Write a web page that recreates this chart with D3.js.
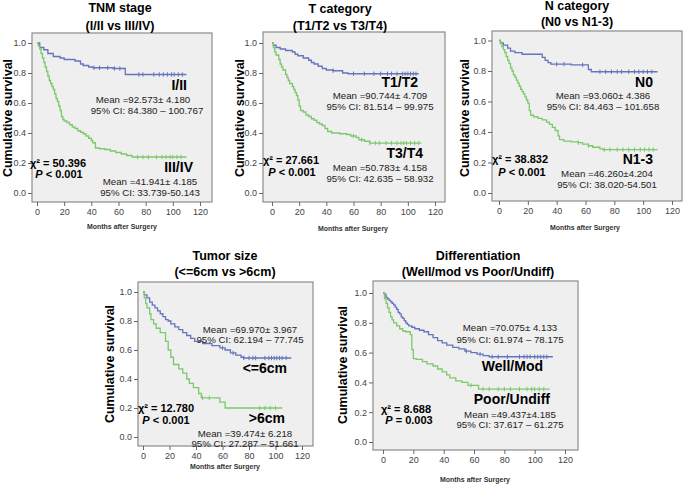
<!DOCTYPE html>
<html><head><meta charset="utf-8">
<script src="https://cdn.jsdelivr.net/npm/d3@7"></script>
<style>body{margin:0;background:#fff}svg{display:block}</style>
</head><body>
<svg id="chart" width="685" height="486"></svg>
<script>
// ---------- data ----------
const xTicks = [0, 20, 40, 60, 80, 100, 120];
const yTicks = [0.0, 0.2, 0.4, 0.6, 0.8, 1.0];
const xAxisTitle = "Months after Surgery";
const yAxisTitle = "Cumulative survival";

const panelTitles = [
  ["TNM stage", "(I/II vs III/IV)"],
  ["T category", "(T1/T2 vs T3/T4)"],
  ["N category", "(N0 vs N1-3)"],
  ["Tumor size", "(<=6cm vs >6cm)"],
  ["Differentiation", "(Well/mod vs Poor/Undiff)"]
];
const groupLabels = [["I/II", "III/IV"], ["T1/T2", "T3/T4"], ["N0", "N1-3"], ["<=6cm", ">6cm"], ["Well/Mod", "Poor/Undiff"]];
const meanLabels = [
  ["Mean =92.573\u00b1 4.180", "Mean =41.941\u00b1 4.185"],
  ["Mean =90.744\u00b1 4.709", "Mean =50.783\u00b1 4.158"],
  ["Mean =93.060\u00b1 4.386", "Mean =46.260\u00b14.204"],
  ["Mean =69.970\u00b1 3.967", "Mean =39.474\u00b1 6.218"],
  ["Mean =70.075\u00b1 4.133", "Mean =49.437\u00b14.185"]
];
const ciLabels = [
  ["95% CI: 84.380 \u2013 100.767", "95% CI: 33.739-50.143"],
  ["95% CI: 81.514 \u2013 99.975", "95% CI: 42.635 \u2013 58.932"],
  ["95% CI: 84.463 \u2013 101.658", "95% CI: 38.020-54.501"],
  ["95% CI: 62.194 \u2013 77.745", "95% CI: 27.287 \u2013 51.661"],
  ["95% CI: 61.974 \u2013 78.175", "95% CI: 37.617 \u2013 61.275"]
];
const chiLabels = ["\u03c7\u00b2 = 50.396", "\u03c7\u00b2 = 27.661", "\u03c7\u00b2 = 38.832", "\u03c7\u00b2 = 12.780", "\u03c7\u00b2 = 8.688"];
const pLabels = ["P < 0.001", "P < 0.001", "P < 0.001", "P < 0.001", "P = 0.003"];

// Kaplan-Meier steps: [month, cumulative survival]
const tnmGood = [[0,1],[2,0.97],[5,0.955],[8,0.93],[12,0.91],[17,0.90],[20,0.89],[28,0.88],[32,0.86],[34,0.85],[38,0.84],[41,0.835],[56,0.83],[65,0.79]];
const tnmPoor = [[0,1],[1,0.98],[2,0.96],[3,0.93],[4,0.90],[5,0.87],[6,0.84],[7,0.81],[8,0.78],[9,0.75],[10,0.73],[11,0.71],[12,0.69],[13,0.66],[14,0.63],[15,0.61],[16,0.58],[17,0.55],[18,0.51],[19,0.49],[20,0.48],[22,0.47],[24,0.455],[26,0.44],[28,0.43],[30,0.415],[32,0.405],[34,0.395],[36,0.38],[38,0.365],[40,0.35],[41,0.335],[43,0.30],[46,0.295],[50,0.29],[54,0.28],[58,0.27],[62,0.26],[66,0.25],[70,0.24]];
const tGood = [[0,1],[1,0.985],[3,0.97],[6,0.96],[10,0.95],[15,0.94],[17,0.925],[19,0.915],[23,0.90],[27,0.885],[29,0.87],[31,0.86],[34,0.845],[37,0.83],[40,0.82],[45,0.815],[52,0.80],[56,0.795]];
const tPoor = [[0,1],[1,0.97],[2,0.94],[3,0.92],[5,0.89],[6,0.86],[7,0.84],[8,0.82],[10,0.79],[11,0.77],[12,0.75],[13,0.73],[15,0.71],[16,0.69],[17,0.67],[18,0.65],[19,0.62],[20,0.58],[21,0.55],[23,0.54],[25,0.52],[27,0.51],[29,0.495],[31,0.485],[33,0.47],[35,0.46],[37,0.45],[39,0.43],[41,0.41],[44,0.40],[50,0.395],[55,0.39],[58,0.38],[62,0.37],[64,0.355],[68,0.345],[72,0.333]];
const nGood = [[0,1],[1,0.985],[3,0.97],[6,0.95],[8,0.93],[11,0.92],[16,0.91],[30,0.89],[32,0.87],[34,0.855],[36,0.845],[50,0.84],[62,0.81],[64,0.795]];
const nPoor = [[0,1],[1,0.98],[2,0.96],[3,0.94],[4,0.92],[5,0.895],[6,0.87],[7,0.85],[8,0.82],[9,0.80],[10,0.775],[11,0.76],[12,0.74],[13,0.72],[14,0.70],[15,0.68],[16,0.665],[17,0.65],[18,0.63],[19,0.61],[20,0.59],[21,0.54],[22,0.51],[24,0.50],[27,0.49],[30,0.48],[33,0.465],[35,0.45],[37,0.43],[39,0.41],[41,0.375],[42,0.35],[45,0.34],[50,0.335],[55,0.33],[58,0.32],[62,0.31],[65,0.30],[70,0.29],[72,0.285]];
const sizeGood = [[0,1],[1,0.98],[3,0.96],[5,0.93],[7,0.91],[9,0.89],[11,0.87],[13,0.85],[15,0.83],[17,0.81],[19,0.80],[21,0.78],[24,0.76],[27,0.74],[30,0.72],[33,0.70],[36,0.68],[39,0.66],[45,0.645],[52,0.63],[58,0.615],[62,0.60],[66,0.58],[70,0.565],[74,0.55],[76,0.545]];
const sizePoor = [[0,1],[1,0.96],[2,0.92],[3,0.89],[5,0.85],[6,0.81],[8,0.78],[10,0.75],[13,0.72],[17,0.66],[19,0.60],[21,0.55],[23,0.50],[27,0.47],[30,0.44],[33,0.40],[35,0.37],[38,0.34],[42,0.30],[44,0.27],[58,0.24],[62,0.20]];
const diffGood = [[0,1],[1,0.99],[2,0.97],[3,0.96],[4,0.95],[5,0.94],[6,0.93],[7,0.92],[8,0.905],[9,0.89],[10,0.87],[11,0.86],[12,0.84],[13,0.83],[14,0.815],[15,0.80],[16,0.79],[17,0.78],[19,0.77],[21,0.76],[24,0.75],[27,0.74],[30,0.72],[33,0.70],[36,0.68],[39,0.665],[42,0.65],[46,0.635],[50,0.625],[54,0.61],[58,0.60],[62,0.59],[66,0.58],[70,0.572]];
const diffPoor = [[0,1],[1,0.96],[2,0.93],[3,0.90],[4,0.87],[5,0.84],[6,0.82],[7,0.80],[9,0.78],[11,0.76],[13,0.745],[15,0.74],[18,0.72],[19,0.62],[20,0.56],[22,0.555],[26,0.54],[29,0.525],[33,0.51],[36,0.49],[39,0.47],[42,0.45],[44,0.43],[48,0.41],[52,0.40],[56,0.38],[63,0.355]];

// follow-up end (months) and censored times
const followEnd = [[110, 110], [108, 110], [110, 110], [112, 105], [112, 110]];
const censored = [
  [[42,46,52,57,61,75,78,86,90,93,96,99,101,104,107], [74,78,82,88,92,95,98,100,103,106]],
  [[45,60,68,75,80,85,88,92,96,98,100,102,104,106], [60,66,72,76,79,84,88,92,95,97,99,102,105,108]],
  [[40,45,58,70,74,78,82,85,90,94,97,100,103,106], [55,62,73,77,82,86,90,94,98,101,104,107]],
  [[60,68,76,80,83,85,92,95,97,99,101,103,105,108], [45,50,88,92,96,100]],
  [[55,64,72,76,82,90,93,95,97,100,102,104,106,108], [58,66,70,76,80,84,90,95,98,100,103,106]]
];
const curves = [[tnmGood, tnmPoor], [tGood, tPoor], [nGood, nPoor], [sizeGood, sizePoor], [diffGood, diffPoor]];

// ---------- layout ----------
const layout = [
  {frame:[32,33,212,202], xr:[37,200], yr:[193,43], title:[120,12,30], ylab:[8,118], months:[122,229],
   g1:[187,90], m1:[143,102.5], c1:[147,113.5], g2:[193,172], m2:[150,184.5], c2:[150,195.5], chi:[58,167], p:[59,178]},
  {frame:[263,32,445,202], xr:[272,435], yr:[193,43], title:[340,13,30], ylab:[240,118], months:[353,231],
   g1:[418,87], m1:[380,98.5], c1:[380,109.5], g2:[423,158], m2:[380,170.5], c2:[380,181.5], chi:[291,164], p:[292,176]},
  {frame:[492,31,682,201], xr:[499,672], yr:[193,40.5], title:[577,10,26], ylab:[465,118], months:[585,230],
   g1:[653,87], m1:[603,98.5], c1:[603,109.5], g2:[653,164], m2:[607,176.5], c2:[607,187.5], chi:[520,163], p:[522,176]},
  {frame:[138,282,313,446], xr:[143,302], yr:[437,292], title:[225,260,276], ylab:[110,364], months:[225,469],
   g1:[287,373], m1:[250,332.5], c1:[250,342.5], g2:[285,423], m2:[245,436.5], c2:[245,446.5], chi:[166,412], p:[166,424]},
  {frame:[373,281,578,450], xr:[383,565], yr:[442,293], title:[478,260,276], ylab:[343,365], months:[475,482],
   g1:[543,371], m1:[510,330.5], c1:[510,342.5], g2:[550,404], m2:[510,417.5], c2:[510,427.5], chi:[406,413], p:[409,424]}
];
const colors = ["#6673bd", "#7cc96c"];
const FONT = "Liberation Sans, Arial, Helvetica, sans-serif";

const svg = d3.select("#chart").style("font-family", FONT);

layout.forEach((L, i) => {
  const [fl, ft, fr, fb] = L.frame;
  const x = d3.scaleLinear().domain([0, 120]).range(L.xr);
  const y = d3.scaleLinear().domain([0, 1]).range(L.yr);
  const g = svg.append("g");

  g.append("rect").attr("x", fl).attr("y", ft).attr("width", fr - fl).attr("height", fb - ft)
    .attr("fill", "#efefef").attr("stroke", "#8c8c8c").attr("stroke-width", 1.2);

  // axes
  const yAxis = d3.axisLeft(y).tickValues(yTicks).tickFormat(d3.format(".1f")).tickSize(4).tickPadding(2);
  const ya = g.append("g").attr("transform", `translate(${fl},0)`).call(yAxis);
  const xAxis = d3.axisBottom(x).tickValues(xTicks).tickFormat(d3.format("d")).tickSize(4).tickPadding(3);
  const xa = g.append("g").attr("transform", `translate(0,${fb})`).call(xAxis);
  [ya, xa].forEach(a => {
    a.select(".domain").remove();
    a.selectAll(".tick line").attr("stroke", "#666");
    a.selectAll(".tick text").attr("fill", "#444").style("font-size", "9px").style("font-family", FONT);
  });

  // curves
  curves[i].forEach((steps, k) => {
    const end = followEnd[i][k];
    const pts = steps.concat([[end, steps[steps.length - 1][1]]]);
    const line = d3.line().x(d => x(d[0])).y(d => y(d[1])).curve(d3.curveStepAfter);
    g.append("path").attr("d", line(pts)).attr("fill", "none")
      .attr("stroke", colors[k]).attr("stroke-width", 1.3);
    const bis = d3.bisector(d => d[0]).right;
    censored[i][k].forEach(t => {
      const s = steps[Math.max(0, bis(steps, t) - 1)][1];
      g.append("line").attr("x1", x(t)).attr("x2", x(t)).attr("y1", y(s) - 2.2).attr("y2", y(s) + 2.2)
        .attr("stroke", colors[k]).attr("stroke-width", 1);
    });
  });

  // titles
  g.append("text").attr("x", L.title[0]).attr("y", L.title[1]).attr("text-anchor", "middle")
    .style("font-weight", "bold").style("font-size", "12.5px").text(panelTitles[i][0]);
  g.append("text").attr("x", L.title[0]).attr("y", L.title[2]).attr("text-anchor", "middle")
    .style("font-weight", "bold").style("font-size", "12.5px").text(panelTitles[i][1]);

  g.append("text").attr("transform", `translate(${L.ylab[0] + 4},${L.ylab[1]}) rotate(-90)`)
    .attr("text-anchor", "middle").style("font-weight", "bold").style("font-size", "12.5px").text(yAxisTitle);

  g.append("text").attr("x", L.months[0]).attr("y", L.months[1]).attr("text-anchor", "middle")
    .attr("textLength", 70).attr("lengthAdjust", "spacingAndGlyphs")
    .style("font-weight", "bold").style("font-size", "8px").attr("fill", "#333").text(xAxisTitle);

  // annotations
  const bold = (p, txt, size, anchor) => g.append("text").attr("x", p[0]).attr("y", p[1])
    .attr("text-anchor", anchor).style("font-weight", "bold").style("font-size", size).text(txt);
  const norm = (p, txt) => g.append("text").attr("x", p[0]).attr("y", p[1]).attr("text-anchor", "middle")
    .style("font-size", "9.7px").attr("fill", "#222").text(txt);
  bold(L.g1, groupLabels[i][0], "14px", "end");
  bold(L.g2, groupLabels[i][1], "14px", "end");
  norm(L.m1, meanLabels[i][0]);
  norm(L.c1, ciLabels[i][0]);
  norm(L.m2, meanLabels[i][1]);
  norm(L.c2, ciLabels[i][1]);
  bold(L.chi, chiLabels[i], "11px", "middle");
  g.append("text").attr("x", L.p[0]).attr("y", L.p[1]).attr("text-anchor", "middle")
    .style("font-weight", "bold").style("font-size", "11px")
    .call(t => { t.append("tspan").style("font-style", "italic").text(pLabels[i].slice(0, 1)); t.append("tspan").text(pLabels[i].slice(1)); });
});
</script>
</body></html>
